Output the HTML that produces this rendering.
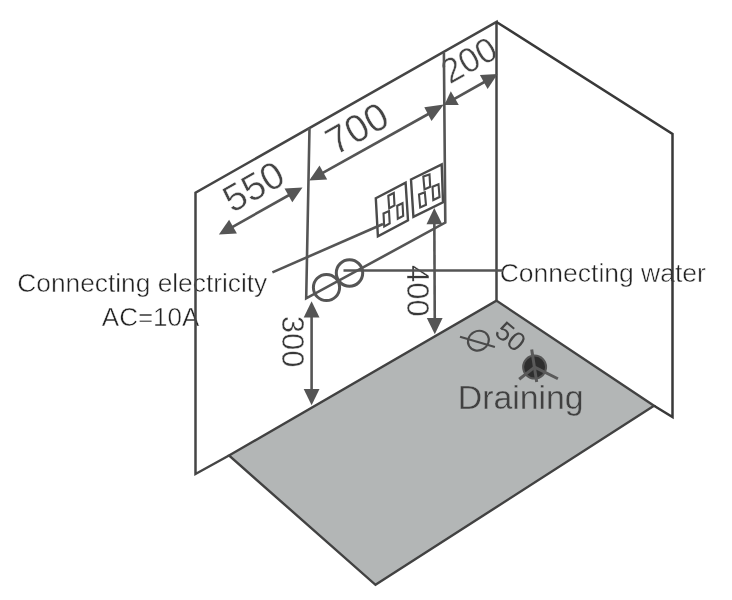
<!DOCTYPE html>
<html><head><meta charset="utf-8">
<style>
html,body{margin:0;padding:0;background:#fff;width:732px;height:600px;overflow:hidden;}
svg{display:block;will-change:transform;}
text{font-family:"Liberation Sans",sans-serif;}
</style></head>
<body>
<svg width="732" height="600" viewBox="0 0 732 600">
<!-- floor -->
<polygon points="229,455.5 496.4,300.6 654,405.8 375.5,584.8" fill="#b3b6b6" stroke="#424242" stroke-width="2.4" stroke-linejoin="miter"/>

<!-- texts on white -->
<g fill="#222" stroke="#fff" stroke-width="0.5">
<text x="18.6" y="292" font-size="26.3" dx="-1.3">Connecting electricity</text>
<text x="101.8" y="326" font-size="26">AC=10A</text>
<text x="501" y="282.4" font-size="26.5" dx="-1.3">Connecting water</text>
</g>
<g fill="#383838" stroke="#fff" stroke-width="0.4">
<text transform="translate(293.4,341.7) rotate(90)" font-size="31" text-anchor="middle" dy="10.9">300</text>
<text transform="translate(418.1,290.8) rotate(90)" font-size="31" text-anchor="middle" dy="10.9">400</text>
</g>
<g fill="#444" stroke="#fff" stroke-width="0.45">
<text transform="translate(253.3,186.4) rotate(-29.4)" font-size="38" text-anchor="middle" dy="13.3">550</text>
<text transform="translate(356.8,128.2) rotate(-29.4)" font-size="38.8" text-anchor="middle" dy="13.6">700</text>
<text transform="translate(469,59.8) rotate(-29.4)" font-size="34.5" text-anchor="middle" dy="12.1">200</text>
</g>
<!-- texts on floor -->
<g fill="#404040" stroke="#b3b6b6" stroke-width="0.4">
<text x="460.5" y="409.4" font-size="33.8" dx="-2.7">Draining</text>
</g>
<text transform="translate(510.7,336.3) rotate(40)" font-size="26.8" text-anchor="middle" dy="9.4" fill="#444">50</text>

<g fill="none" stroke-width="2.5" stroke-linejoin="miter" stroke-linecap="butt">
<!-- left wall -->
<polyline stroke="#454545" points="229,455.5 195.5,474 195.5,192.7 496.5,22 496.5,300.6"/>
<!-- right wall -->
<polyline stroke="#393939" points="496.5,22 672.5,134 672.5,417 654,405.8"/>
</g>
<g fill="none" stroke="#555" stroke-width="2.6" stroke-linejoin="miter" stroke-linecap="butt">
<!-- L path -->
<polyline points="309.5,128 306.2,298.4 445.3,222.6 443.9,52.7"/>
<!-- water line -->
<line x1="343.5" y1="270.5" x2="503" y2="270.5"/>
<!-- circles -->
<circle cx="326.5" cy="287.5" r="13.1" stroke-width="3"/>
<circle cx="349.5" cy="273" r="13.2" stroke-width="3"/>
<!-- dim lines -->
<line x1="222" y1="232.8" x2="299" y2="189.5"/>
<line x1="312" y1="178.8" x2="440" y2="107.5"/>
<line x1="446" y1="103.7" x2="495" y2="76"/>
<line x1="311.6" y1="305" x2="311.6" y2="400"/>
<line x1="434.3" y1="212" x2="434.8" y2="330"/>
</g>
<!-- sockets -->
<g fill="#fff" stroke="#4a4a4a" stroke-width="2.4" stroke-linejoin="miter">
<polygon points="375.8,198.3 405.6,182.7 408,220.2 377.9,236.3"/>
<polygon points="411,179.5 441.7,164.3 443,202.2 413.4,216.9"/>
</g>
<g fill="none" stroke="#4a4a4a" stroke-width="2.1">
<polygon points="388.3,195.8 393.8,193 394.5,205.5 389.2,208.3"/>
<polygon points="383.5,213.5 389,211 389.7,223.5 384.2,226.5"/>
<polygon points="397.2,205.8 402.5,203.2 403.2,216 397.8,218.8"/>
<polygon points="423.3,176.5 429.5,174.5 430.2,186.8 424.5,189.5"/>
<polygon points="419,194.5 424.8,192.2 426,204.8 420.2,207.5"/>
<polygon points="432.5,186.8 438.5,184.2 439.5,197 433.3,200"/>
</g>
<!-- electricity line -->
<line x1="272.4" y1="272.4" x2="383" y2="224" stroke="#555" stroke-width="2.6"/>
<!-- arrowheads -->
<g fill="#555">
<polygon points="218.9,234.6 229.1,219.8 236.9,233.5"/>
<polygon points="302.5,187.5 292.3,202.3 284.5,188.6"/>
<polygon points="309.2,180.4 319.5,165.6 327.2,179.4"/>
<polygon points="443.8,104.6 431.5,121 424.3,107.2"/>
<polygon points="444.4,105 450.8,91.3 458.8,105"/>
<polygon points="497.6,74.1 487.6,88.9 479.9,75"/>
<polygon points="311.6,301.3 319.5,317.5 303.7,317.5"/>
<polygon points="311.6,405.2 303.7,389.0 319.5,389.0"/>
<polygon points="434.3,208.0 442.3,224.2 426.5,224.2"/>
<polygon points="434.8,334.2 426.8,318.0 442.6,318.0"/>
</g>
<!-- phi -->
<g fill="none" stroke="#4a4a4a" stroke-width="2.1">
<ellipse cx="478.4" cy="340.7" rx="10.7" ry="9.6" transform="rotate(-30 478.4 340.7)"/>
<line x1="460" y1="336.7" x2="494.9" y2="346.9"/>
</g>
<!-- drain -->
<circle cx="534.6" cy="367.1" r="11.5" fill="#2e2e2e" stroke="#555" stroke-width="2"/>
<g stroke="#5a5a5a" stroke-width="3" fill="none">
<line x1="531.7" y1="349.6" x2="536.7" y2="382.1"/>
<line x1="534.6" y1="367.1" x2="519.2" y2="379.2"/>
<line x1="534.6" y1="367.1" x2="557.9" y2="378.75"/>
</g>
</svg>
</body></html>
